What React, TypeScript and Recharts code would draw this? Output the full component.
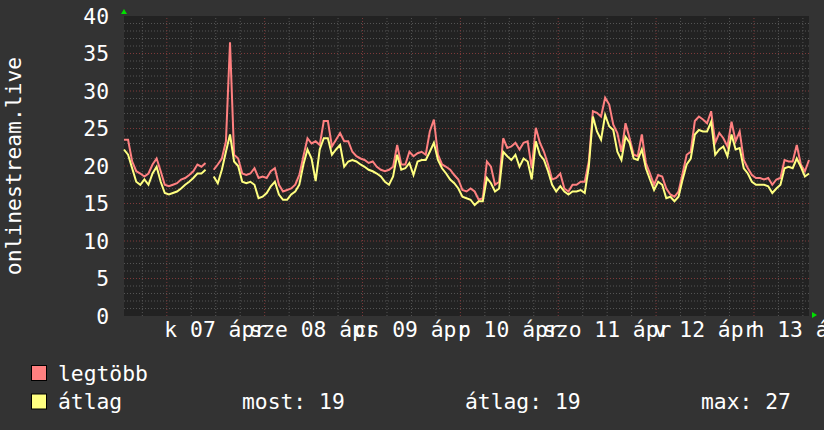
import React from 'react';
import { LineChart, Line, XAxis, YAxis, CartesianGrid, ReferenceLine, ReferenceDot } from 'recharts';

// hourly samples, starting 06 ápr 13:30 (hours counted from 06 ápr 00:00)
const START = 13.5;

const LEGTOBB: (number | null)[] = [
  23.5, 23.5, 20.6, 19.3, 19, 18.6, 19, 20.2, 21, 19.3,
  17.5, 17.3, 17.5, 17.7, 18.2, 18.4, 18.8, 19.3, 20.2, 19.9,
  20.4, null, 19.5, 20.2, 21, 23.3, 36.5, 21.5, 21, 19,
  18.8, 19, 19.7, 18.4, 18.6, 18.4, 19.3, 19.7, 17.5, 16.6,
  16.8, 17, 17.5, 18.8, 21.3, 23.7, 23, 23.3, 22.8, 26,
  26, 22.6, 23.5, 24.4, 23.3, 23.3, 21.9, 21.3, 21, 20.8,
  20.4, 20.6, 19.9, 19.5, 19.3, 19.5, 19.9, 22.8, 20.2, 20.2,
  21.9, 21.3, 21.7, 21.9, 21.5, 24.6, 26.2, 21.5, 20.2, 19.9,
  19.5, 18.8, 18.2, 16.8, 16.6, 17, 16.6, 15.5, 15.7, 20.6,
  19.9, 17.5, 17.9, 23.7, 22.4, 22.6, 23.1, 22.2, 23.1, 23.3,
  19.7, 25.1, 23.1, 21.9, 20.2, 18.2, 18.4, 19, 17, 16.6,
  17.5, 17.5, 17.9, 17.9, 20.6, 27.3, 27.1, 26.6, 29.1, 28.2,
  25.5, 24.4, 21.9, 25.7, 23.7, 21.5, 21.3, 24.2, 20.4, 19,
  17.5, 18.8, 18.6, 17, 16.2, 15.9, 16.6, 19, 21.5, 21.9,
  26, 26.6, 26.2, 25.7, 27.3, 23.1, 24.4, 23.7, 22.6, 25.9,
  23.3, 24.6, 20.8, 19.7, 18.8, 18.4, 18.4, 18.2, 18.4, 17.5,
  18.2, 18.4, 20.8, 20.6, 20.6, 22.8, 20.2, 19.3, 20.8,
];

const ATLAG: (number | null)[] = [
  22.2, 21.5, 19.7, 17.9, 17.5, 18.2, 17.5, 19, 19.9, 17.9,
  16.4, 16.2, 16.4, 16.6, 17, 17.5, 17.9, 18.4, 19, 19,
  19.5, null, 18.6, 17.7, 19.5, 21.9, 24.2, 20.6, 20, 17.9,
  17.7, 17.9, 17.5, 15.7, 15.9, 16.4, 17.3, 17.9, 16.2, 15.5,
  15.5, 16.2, 16.6, 17.5, 20.2, 22.2, 21, 18, 22.2, 23.7,
  23.7, 21.5, 22.2, 22.8, 19.9, 20.6, 20.8, 20.6, 20.2, 19.9,
  19.5, 19.3, 19, 18.6, 17.9, 17.5, 18.6, 21.5, 19.5, 19.7,
  20.4, 18.8, 20.6, 20.8, 20.8, 21.9, 23.1, 20.8, 19.7, 19,
  18.2, 17.7, 17, 15.9, 15.7, 15.5, 14.8, 15.3, 15.3, 18.4,
  17.7, 16.6, 17, 21.9, 21.3, 20.8, 21.5, 19.9, 21, 20.6,
  18.2, 23.3, 21.5, 20.8, 19.3, 17.5, 16.6, 17.3, 16.6, 16.2,
  16.6, 16.6, 16.8, 16.4, 19.9, 26.6, 24.6, 23.5, 26.8, 25.3,
  24.8, 21.9, 20.8, 23.9, 23.1, 21, 20.8, 22.2, 19.7, 18.2,
  16.8, 17.9, 17.5, 15.7, 15.9, 15.3, 15.9, 18.2, 20.2, 21,
  24.2, 24.8, 24.6, 24.6, 25.9, 21.5, 22.2, 22.6, 21.3, 24.2,
  22.2, 22.4, 19.7, 19, 17.9, 17.5, 17.5, 17.5, 17.3, 16.4,
  17, 17.5, 19.7, 19.9, 19.7, 21, 19.9, 18.6, 19,
];

// noon of each day -> label
const DAY_TICKS = [36, 60, 84, 108, 132, 156, 180];
const DAY_LABELS = ['k 07 ápr', 'sze 08 ápr', 'cs 09 ápr', 'p 10 ápr', 'szo 11 ápr', 'v 12 ápr', 'h 13 ápr'];
const MIDNIGHTS = [24, 48, 72, 96, 120, 144, 168];
const SIX_HOURS = [18, 30, 36, 42, 54, 60, 66, 78, 84, 90, 102, 108, 114, 126, 132, 138, 150, 156, 162, 174, 180];
const Y_TICKS = [0, 5, 10, 15, 20, 25, 30, 35, 40];
const Y_MINOR = Array.from({ length: 39 }, (_, i) => i + 1).filter((v) => v % 5 !== 0);

const LEGEND_STATS = ['most: 19', 'átlag: 19', 'max: 27'];

const data = LEGTOBB.map((v, i) => ({ t: START + i, legtobb: v, atlag: ATLAG[i] }));

const FONT = "'DejaVu Sans Mono', monospace";
const FS = 21.33;
const MINOR = '#545454';
const MAJOR = '#7e3a3a';
const RED = '#ff8080';
const YELLOW = '#ffff80';

const ArrowUp = (p: any) => (
  <polygon points={`${p.cx},${p.cy - 7} ${p.cx - 3},${p.cy - 2} ${p.cx + 3},${p.cy - 2}`} fill="#00e000" />
);
const ArrowRight = (p: any) => (
  <polygon points={`${p.cx + 8},${p.cy - 1} ${p.cx + 3},${p.cy - 4} ${p.cx + 3},${p.cy + 2}`} fill="#00e000" />
);

export default function App() {
  return (
    <div style={{ position: 'absolute', left: 0, top: 0, width: 824, height: 430, background: '#333333', overflow: 'hidden' }}>
      <LineChart width={824} height={350} data={data} margin={{ top: 16, right: 15, left: 0, bottom: 4 }}>
        <CartesianGrid horizontal={false} vertical={false} fill="#222222" />
        {Y_MINOR.map((v) => (
          <ReferenceLine key={'ym' + v} y={v} stroke={MINOR} strokeDasharray="1 2" />
        ))}
        {SIX_HOURS.map((v) => (
          <ReferenceLine key={'xm' + v} x={v} stroke={MINOR} strokeDasharray="1 2" />
        ))}
        {Y_TICKS.slice(1, -1).map((v) => (
          <ReferenceLine key={'yM' + v} y={v} stroke={MAJOR} strokeDasharray="1 2" />
        ))}
        {MIDNIGHTS.map((v) => (
          <ReferenceLine key={'xM' + v} x={v} stroke={MAJOR} strokeDasharray="1 2" />
        ))}
        <XAxis
          dataKey="t"
          type="number"
          domain={[START, START + 168]}
          ticks={DAY_TICKS}
          interval={0}
          tickFormatter={(v: number) => DAY_LABELS[DAY_TICKS.indexOf(v)] ?? ''}
          tick={{ fill: '#ffffff', fontFamily: FONT, fontSize: FS }}
          tickLine={false}
          axisLine={false}
          tickSize={0}
          tickMargin={6}
          height={30}
        />
        <YAxis
          type="number"
          domain={[0, 40]}
          ticks={Y_TICKS}
          interval={0}
          width={124}
          tick={{ fill: '#ffffff', fontFamily: FONT, fontSize: FS }}
          tickLine={false}
          axisLine={false}
          tickSize={0}
          tickMargin={15}
          label={{
            content: () => (
              <text
                transform="rotate(-90)"
                x={-166}
                y={20.5}
                textAnchor="middle"
                fill="#ffffff"
                fontFamily={FONT}
                fontSize={FS}
              >
                onlinestream.live
              </text>
            ),
          }}
        />
        <Line dataKey="legtobb" stroke={RED} strokeWidth={2} dot={false} isAnimationActive={false} connectNulls={false} />
        <Line dataKey="atlag" stroke={YELLOW} strokeWidth={2} dot={false} isAnimationActive={false} connectNulls={false} />
        <ReferenceDot x={START} y={40} r={0} shape={ArrowUp} ifOverflow="visible" />
        <ReferenceDot x={START + 168} y={0} r={0} shape={ArrowRight} ifOverflow="visible" />
      </LineChart>
      <svg width={824} height={80} style={{ position: 'absolute', left: 0, top: 350 }}>
        <rect x={31.5} y={15.5} width={15} height={15} fill={RED} stroke="#000" strokeWidth={1} />
        <text x={58} y={30.5} fill="#ffffff" fontFamily={FONT} fontSize={FS}>legtöbb</text>
        <rect x={31.5} y={44} width={15} height={15} fill={YELLOW} stroke="#000" strokeWidth={1} />
        <text x={58} y={58.5} fill="#ffffff" fontFamily={FONT} fontSize={FS}>átlag</text>
        <text x={242} y={58.5} fill="#ffffff" fontFamily={FONT} fontSize={FS}>{LEGEND_STATS[0]}</text>
        <text x={465} y={58.5} fill="#ffffff" fontFamily={FONT} fontSize={FS}>{LEGEND_STATS[1]}</text>
        <text x={701} y={58.5} fill="#ffffff" fontFamily={FONT} fontSize={FS}>{LEGEND_STATS[2]}</text>
      </svg>
    </div>
  );
}
